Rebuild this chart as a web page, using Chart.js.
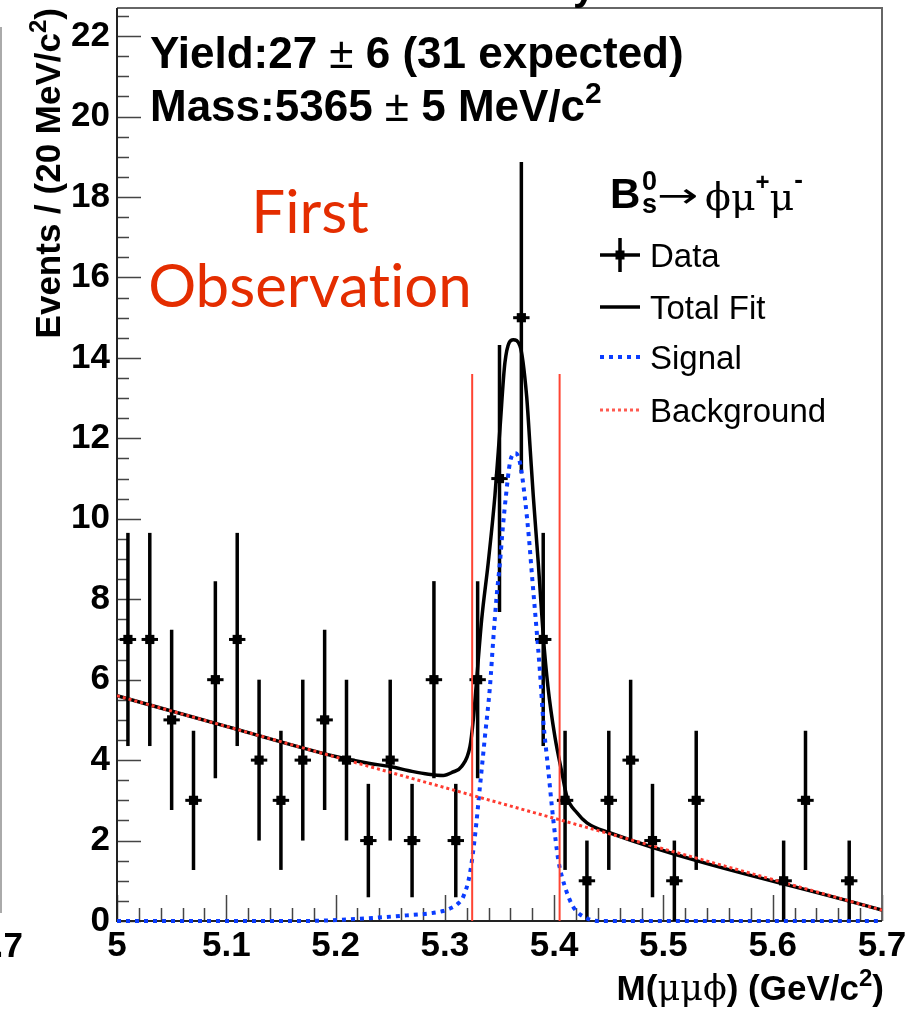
<!DOCTYPE html>
<html>
<head>
<meta charset="utf-8">
<script src="https://cdn.jsdelivr.net/npm/chart.js@4.4.1/dist/chart.umd.min.js"></script>
<style>
  html, body { margin: 0; padding: 0; background: #fff; }
  #wrap { width: 908px; height: 1013px; }
</style>
</head>
<body>
<div id="wrap"><canvas id="massChart" width="908" height="1013"></canvas></div>
<script>
// B_s -> phi mu mu invariant mass, data + fit

const binCenters = [5.01, 5.03, 5.05, 5.07, 5.09, 5.11, 5.13, 5.15, 5.17, 5.19,
                    5.21, 5.23, 5.25, 5.27, 5.29, 5.31, 5.33, 5.35, 5.37, 5.39,
                    5.41, 5.43, 5.45, 5.47, 5.49, 5.51, 5.53, 5.55, 5.57, 5.59,
                    5.61, 5.63, 5.65, 5.67, 5.69];
const counts = [7, 7, 5, 3, 6, 7, 4, 3, 4, 5,
                4, 2, 4, 2, 6, 2, 6, 11, 15, 7,
                3, 1, 3, 4, 2, 1, 3, 0, 0, 0,
                1, 3, 0, 1, 0];
const errors = [2.65, 2.65, 2.24, 1.73, 2.45, 2.65, 2.0, 1.73, 2.0, 2.24,
                2.0, 1.41, 2.0, 1.41, 2.45, 1.41, 2.45, 3.32, 3.87, 2.65,
                1.73, 1.0, 1.73, 2.0, 1.41, 1.0, 1.73, 0, 0, 0,
                1.0, 1.73, 0, 1.0, 0];

// fit curves
const totalX = [5.00, 5.10, 5.20, 5.23, 5.25, 5.27, 5.285, 5.2986, 5.307, 5.3153,
                5.323, 5.326, 5.3291, 5.3337, 5.3397, 5.3458, 5.3504, 5.355, 5.3626, 5.3687,
                5.3748, 5.3779, 5.3809, 5.3855, 5.39, 5.3943, 5.4007, 5.4071, 5.4117, 5.4209,
                5.43, 5.45, 5.70];
const totalY = [5.60, 4.84, 4.09, 3.92, 3.84, 3.72, 3.65, 3.62, 3.70, 3.84,
                4.34, 5.0, 6.0, 7.5, 8.91, 10.57, 12.23, 13.89, 14.45, 14.3,
                13.06, 11.81, 10.57, 8.9, 7.1, 5.83, 4.58, 3.69, 3.09, 2.69,
                2.44, 2.2, 0.27];

const sigX = [5.00, 5.17, 5.23, 5.265, 5.2864, 5.2986, 5.3047, 5.3115, 5.3168, 5.323,
              5.3275, 5.3321, 5.3367, 5.3413, 5.3443, 5.3474, 5.3504, 5.3529, 5.3559, 5.3596,
              5.3645, 5.3687, 5.3733, 5.377, 5.38, 5.3836, 5.387, 5.39, 5.3946, 5.3992,
              5.4038, 5.4099, 5.4175, 5.4297, 5.44, 5.70];
const sigY = [0, 0, 0.07, 0.14, 0.19, 0.25, 0.31, 0.42, 0.6, 1.19,
              2.1, 3.34, 4.59, 5.84, 7.0, 8.08, 8.91, 9.74, 10.57, 11.4,
              11.63, 11.4, 10.5, 9.5, 8.5, 7.35, 6.2, 5.0, 3.76, 2.52,
              1.52, 0.85, 0.35, 0.07, 0, 0];

const bgX = [5.00, 5.70];
const bgY = [5.60, 0.27];

// signal window
const cutLow = 5.325;
const cutHigh = 5.405;
const cutTop = 13.6;

const xTickLabels = [5, 5.1, 5.2, 5.3, 5.4, 5.5, 5.6, 5.7];
const yTickLabels = [0, 2, 4, 6, 8, 10, 12, 14, 16, 18, 20, 22];

const toXY = (xs, ys) => xs.map((x, i) => ({ x: x, y: ys[i] }));

const dataPoints = [];
binCenters.forEach((c, i) => {
    if (counts[i] > 0) dataPoints.push({ x: c, y: counts[i] });
});

const BOLD = 'Liberation Sans';

function rich(ctx, x, y, segs, align) {
    let w = 0;
    segs.forEach(s => { ctx.font = s.font; s.w = ctx.measureText(s.t).width; w += s.w; });
    let cx = align === 'right' ? x - w : (align === 'center' ? x - w / 2 : x);
    ctx.textAlign = 'left';
    segs.forEach(s => {
        ctx.font = s.font;
        ctx.fillStyle = s.color || '#000';
        ctx.fillText(s.t, cx, y + (s.dy || 0));
        cx += s.w;
    });
}

const whiteBg = {
    id: 'whiteBg',
    beforeDraw(chart) {
        const ctx = chart.ctx;
        ctx.save();
        ctx.fillStyle = '#fff';
        ctx.fillRect(0, 0, chart.width, chart.height);
        ctx.restore();
    }
};

// frame and inward ticks go under the curves, error bars too
const frameAndBars = {
    id: 'frameAndBars',
    beforeDatasetsDraw(chart) {
        const { ctx, chartArea: a, scales: { x, y } } = chart;
        ctx.save();
        ctx.strokeStyle = '#444';
        ctx.lineWidth = 1.5;
        ctx.beginPath();
        for (let v = 0; v <= 22.6; v += 0.5) {
            const py = Math.round(y.getPixelForValue(v)) + 0.5;
            const len = (Math.abs(v / 2 - Math.round(v / 2)) < 1e-6) ? 24 : 12;
            ctx.moveTo(a.left, py);
            ctx.lineTo(a.left + len, py);
        }
        for (let k = 0; k <= 35; k++) {
            const v = 5 + k * 0.02;
            const px = Math.round(x.getPixelForValue(v)) + 0.5;
            const len = (k % 5 === 0) ? 26 : 13;
            ctx.moveTo(px, a.bottom);
            ctx.lineTo(px, a.bottom - len);
        }
        ctx.stroke();
        ctx.lineWidth = 2;
        ctx.strokeStyle = '#666';
        ctx.beginPath();
        ctx.moveTo(a.left, a.top);
        ctx.lineTo(a.right, a.top);
        ctx.lineTo(a.right, a.bottom);
        ctx.stroke();
        ctx.strokeStyle = '#222';
        ctx.beginPath();
        ctx.moveTo(a.left, a.top);
        ctx.lineTo(a.left, a.bottom);
        ctx.lineTo(a.right, a.bottom);
        ctx.stroke();

        ctx.strokeStyle = '#000';
        binCenters.forEach((c, i) => {
            if (!counts[i]) return;
            const px = x.getPixelForValue(c);
            const py = y.getPixelForValue(counts[i]);
            ctx.lineWidth = 3.5;
            ctx.beginPath();
            ctx.moveTo(px, y.getPixelForValue(counts[i] - errors[i]));
            ctx.lineTo(px, y.getPixelForValue(counts[i] + errors[i]));
            ctx.stroke();
            ctx.lineWidth = 3;
            ctx.beginPath();
            ctx.moveTo(x.getPixelForValue(c - 0.0075), py);
            ctx.lineTo(x.getPixelForValue(c + 0.0075), py);
            ctx.stroke();
        });
        ctx.restore();
    }
};

const texts = {
    id: 'texts',
    afterDraw(chart) {
        const ctx = chart.ctx;
        ctx.save();
        ctx.textBaseline = 'alphabetic';

        // pieces of the neighbouring plots
        ctx.strokeStyle = '#aaa';
        ctx.lineWidth = 2;
        ctx.beginPath();
        ctx.moveTo(1, 27);
        ctx.lineTo(1, 913);
        ctx.stroke();
        ctx.fillStyle = '#000';
        ctx.font = 'bold 35px ' + BOLD;
        ctx.textAlign = 'right';
        ctx.fillText('5.7', 23, 957);
        ctx.textAlign = 'left';
        ctx.font = 'bold 40px ' + BOLD;
        ctx.fillText('y', 573, 0);

        // fit results
        rich(ctx, 150, 68, [
            { t: 'Yield:27 ', font: 'bold 44px ' + BOLD },
            { t: '±', font: '44px ' + BOLD },
            { t: ' 6 (31 expected)', font: 'bold 44px ' + BOLD }
        ]);
        rich(ctx, 150, 121, [
            { t: 'Mass:5365 ', font: 'bold 44px ' + BOLD },
            { t: '±', font: '44px ' + BOLD },
            { t: ' 5 MeV/c', font: 'bold 44px ' + BOLD },
            { t: '2', font: 'bold 30px ' + BOLD, dy: -18 }
        ]);

        // annotation
        ctx.fillStyle = '#e42d00';
        ctx.font = '60px Lato';
        ctx.textAlign = 'center';
        ctx.fillText('First', 310, 233);
        ctx.fillText('Observat\u200Cion', 310, 307);
        ctx.textAlign = 'left';

        // legend title
        ctx.fillStyle = '#000';
        ctx.font = 'bold 42px ' + BOLD;
        ctx.fillText('B', 610, 208);
        ctx.font = 'bold 27px ' + BOLD;
        ctx.fillText('0', 642, 190);
        ctx.fillText('s', 642, 213);
        ctx.save();
        ctx.translate(657, 207);
        ctx.scale(1.45, 1);
        ctx.font = '34px "DejaVu Sans"';
        ctx.fillText('→', 0, 0);
        ctx.restore();
        rich(ctx, 705, 210, [
            { t: 'ϕμ', font: '38px "DejaVu Serif"' },
            { t: '+', font: 'bold 24px ' + BOLD, dy: -20 },
            { t: 'μ', font: '38px "DejaVu Serif"' },
            { t: '-', font: 'bold 26px ' + BOLD, dy: -22 }
        ]);

        // legend entries
        ctx.font = '33px ' + BOLD;
        ctx.fillText('Data', 650, 267);
        ctx.fillText('Total Fit', 650, 319);
        ctx.fillText('Signal', 650, 369);
        ctx.fillText('Background', 650, 422);

        ctx.strokeStyle = '#000';
        ctx.lineWidth = 3.5;
        ctx.beginPath();
        ctx.moveTo(600, 255); ctx.lineTo(640, 255);
        ctx.moveTo(620, 238); ctx.lineTo(620, 272);
        ctx.stroke();
        ctx.fillRect(615.5, 250.5, 9, 9);
        ctx.beginPath();
        ctx.moveTo(600, 307); ctx.lineTo(640, 307);
        ctx.stroke();
        ctx.setLineDash([4, 5]);
        ctx.lineWidth = 4;
        ctx.strokeStyle = '#0a3cff';
        ctx.beginPath();
        ctx.moveTo(600, 357); ctx.lineTo(640, 357);
        ctx.stroke();
        ctx.setLineDash([3, 3]);
        ctx.lineWidth = 3;
        ctx.strokeStyle = '#ff5a50';
        ctx.beginPath();
        ctx.moveTo(600, 410); ctx.lineTo(640, 410);
        ctx.stroke();
        ctx.setLineDash([]);

        // axis titles
        rich(ctx, 884, 1000, [
            { t: 'M(', font: 'bold 35px ' + BOLD },
            { t: 'μμϕ', font: '35px "DejaVu Serif"' },
            { t: ') (GeV/c', font: 'bold 35px ' + BOLD },
            { t: '2', font: 'bold 24px ' + BOLD, dy: -14 },
            { t: ')', font: 'bold 35px ' + BOLD }
        ], 'right');

        ctx.save();
        ctx.translate(60, 8);
        ctx.rotate(-Math.PI / 2);
        rich(ctx, 0, 0, [
            { t: 'Events / (20 MeV/c', font: 'bold 35px ' + BOLD },
            { t: '2', font: 'bold 24px ' + BOLD, dy: -14 },
            { t: ')', font: 'bold 35px ' + BOLD }
        ], 'right');
        ctx.restore();

        ctx.restore();
    }
};

const tickFont = { family: BOLD, weight: 'bold', size: 35 };

new Chart(document.getElementById('massChart'), {
    type: 'scatter',
    data: {
        datasets: [
            {
                label: 'Total Fit',
                data: toXY(totalX, totalY),
                showLine: true,
                borderColor: '#000',
                borderWidth: 3.5,
                pointRadius: 0,
                cubicInterpolationMode: 'monotone',
                order: 4
            },
            {
                label: 'Signal',
                data: toXY(sigX, sigY),
                showLine: true,
                borderColor: '#0a3cff',
                borderWidth: 4,
                borderDash: [4, 5],
                pointRadius: 0,
                cubicInterpolationMode: 'monotone',
                clip: 4,
                order: 3
            },
            {
                label: 'Background',
                data: toXY(bgX, bgY),
                showLine: true,
                borderColor: '#ff3b30',
                borderWidth: 3,
                borderDash: [3, 3],
                pointRadius: 0,
                order: 2
            },
            {
                label: 'cut low',
                data: [{ x: cutLow, y: 0 }, { x: cutLow, y: cutTop }],
                showLine: true,
                borderColor: '#ff4433',
                borderWidth: 2,
                pointRadius: 0,
                order: 1
            },
            {
                label: 'cut high',
                data: [{ x: cutHigh, y: 0 }, { x: cutHigh, y: cutTop }],
                showLine: true,
                borderColor: '#ff4433',
                borderWidth: 2,
                pointRadius: 0,
                order: 1
            },
            {
                label: 'Data',
                data: dataPoints,
                pointStyle: 'rect',
                pointRadius: 6.5,
                backgroundColor: '#000',
                borderWidth: 0,
                order: 0
            }
        ]
    },
    options: {
        responsive: false,
        animation: false,
        devicePixelRatio: 1,
        layout: { padding: { left: 0, right: 26, top: 8, bottom: 0 } },
        scales: {
            x: {
                type: 'linear',
                min: 5,
                max: 5.7,
                grid: { display: false, drawTicks: false },
                border: { display: false },
                afterBuildTicks: s => { s.ticks = xTickLabels.map(v => ({ value: v })); },
                afterFit: s => { s.height = 92; s.paddingLeft = 0; s.paddingRight = 0; },
                ticks: {
                    font: tickFont,
                    color: '#000',
                    padding: 4,
                    autoSkip: false,
                    maxRotation: 0,
                    minRotation: 0,
                    callback: v => String(v)
                }
            },
            y: {
                min: 0,
                max: 22.7,
                grid: { display: false, drawTicks: false },
                border: { display: false },
                afterBuildTicks: s => { s.ticks = yTickLabels.map(v => ({ value: v })); },
                afterFit: s => { s.width = 117; s.paddingTop = 0; s.paddingBottom = 0; },
                ticks: {
                    font: tickFont,
                    color: '#000',
                    padding: 7,
                    autoSkip: false,
                    callback: v => String(v)
                }
            }
        },
        plugins: {
            legend: { display: false },
            tooltip: { enabled: false }
        }
    },
    plugins: [whiteBg, frameAndBars, texts]
});
</script>
</body>
</html>
